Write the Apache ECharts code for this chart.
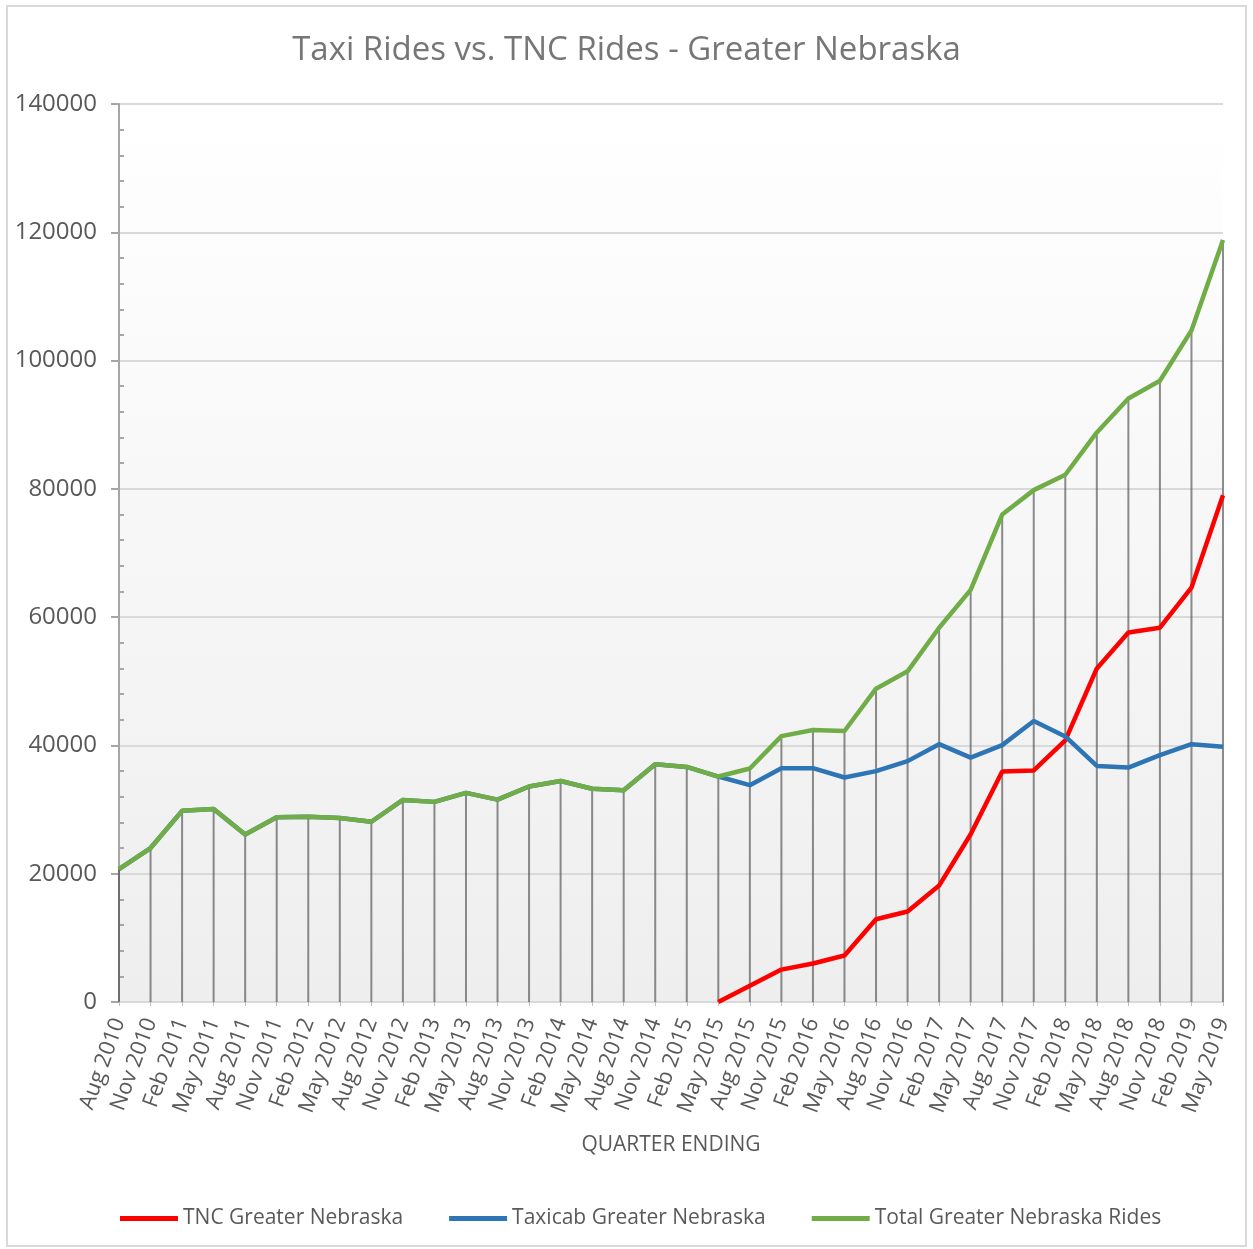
<!DOCTYPE html>
<html>
<head>
<meta charset="utf-8">
<title>Taxi Rides vs. TNC Rides - Greater Nebraska</title>
<script src="https://cdn.jsdelivr.net/npm/echarts@6/dist/echarts.min.js"></script>
<style>
    html, body { margin: 0; padding: 0; background: #fff; }
    #frame { position: absolute; left: 6px; top: 5px; width: 1241px; height: 1242px; border: 2px solid #d9d9d9; box-sizing: border-box; }
    #main { position: absolute; left: 0; top: 0; width: 1253px; height: 1249px; }
</style>
</head>
<body>
<div id="frame"></div>
<div id="main"></div>
<script>
// quarter ending labels
var quarters = [
    'Aug 2010', 'Nov 2010',
    'Feb 2011', 'May 2011', 'Aug 2011', 'Nov 2011',
    'Feb 2012', 'May 2012', 'Aug 2012', 'Nov 2012',
    'Feb 2013', 'May 2013', 'Aug 2013', 'Nov 2013',
    'Feb 2014', 'May 2014', 'Aug 2014', 'Nov 2014',
    'Feb 2015', 'May 2015', 'Aug 2015', 'Nov 2015',
    'Feb 2016', 'May 2016', 'Aug 2016', 'Nov 2016',
    'Feb 2017', 'May 2017', 'Aug 2017', 'Nov 2017',
    'Feb 2018', 'May 2018', 'Aug 2018', 'Nov 2018',
    'Feb 2019', 'May 2019'
];

var tncRides = [
    null, null, null, null, null, null, null, null, null, null,
    null, null, null, null, null, null, null, null, null,
    0, 2550, 5050, 6000, 7250, 12900, 14100, 18150, 26150, 35950,
    36100, 40800, 52000, 57600, 58350, 64600, 79000
];

var taxiRides = [
    20700, 24000, 29800, 30100, 26100, 28800, 28900, 28700, 28100, 31500,
    31200, 32600, 31550, 33600, 34450, 33250, 33000, 37050, 36650,
    35150, 33800, 36450, 36450, 35000, 36000, 37550, 40200, 38100, 40050,
    43800, 41400, 36800, 36550, 38500, 40200, 39800
];

var totalRides = [
    20700, 24000, 29800, 30100, 26100, 28800, 28900, 28700, 28100, 31500,
    31200, 32600, 31550, 33600, 34450, 33250, 33000, 37050, 36650,
    35150, 36400, 41450, 42400, 42250, 48850, 51550, 58350, 64250, 76000,
    79800, 82200, 88800, 94100, 96850, 104700, 118800
];

var seriesNames = ['TNC Greater Nebraska', 'Taxicab Greater Nebraska', 'Total Greater Nebraska Rides'];

var fontFamily = '"Open Sans", "Noto Sans", sans-serif';
var chart = echarts.init(document.getElementById('main'));

function lineSeries(name, data, color) {
    return {
        name: name,
        type: 'line',
        data: data,
        showSymbol: false,
        symbol: 'none',
        connectNulls: false,
        z: 3,
        lineStyle: { color: color, width: 4.5 },
        itemStyle: { color: color }
    };
}

var options = {
    backgroundColor: 'transparent',
    animation: false,
    title: {
        text: 'Taxi Rides vs. TNC Rides - Greater Nebraska',
        left: 'center',
        top: 29,
        textStyle: { fontFamily: fontFamily, fontSize: 33, fontWeight: 'normal', color: '#767676' }
    },
    legend: {
        data: seriesNames,
        left: 115,
        top: 1203,
        itemWidth: 58,
        itemHeight: 5,
        itemGap: 46,
        icon: 'rect',
        textStyle: { fontFamily: fontFamily, fontSize: 21, color: '#595959' }
    },
    grid: {
        left: 119,
        right: 30,
        top: 104,
        bottom: 247,
        show: true,
        borderWidth: 0,
        backgroundColor: {
            type: 'linear', x: 0, y: 0, x2: 0, y2: 1,
            colorStops: [{ offset: 0, color: '#ffffff' }, { offset: 1, color: '#eeeeee' }]
        }
    },
    xAxis: {
        type: 'category',
        data: quarters,
        boundaryGap: false,
        name: 'QUARTER ENDING',
        nameLocation: 'middle',
        nameGap: 133,
        nameTextStyle: { fontFamily: fontFamily, fontSize: 21, color: '#595959' },
        axisLine: { lineStyle: { color: '#d9d9d9', width: 2 } },
        axisTick: { show: true, length: 4, alignWithLabel: true, lineStyle: { color: '#bfbfbf' } },
        axisLabel: {
            interval: 0,
            rotate: 70,
            margin: 17,
            fontFamily: fontFamily,
            fontSize: 22,
            color: '#595959'
        },
        splitLine: { show: false }
    },
    yAxis: [{
        type: 'value',
        min: 0,
        max: 140000,
        interval: 20000,
        axisLine: { show: true, lineStyle: { color: '#a6a6a6', width: 2 } },
        axisTick: { show: true, inside: false, length: 8, lineStyle: { color: '#a6a6a6', width: 2 } },
        axisLabel: {
            margin: 22,
            fontFamily: fontFamily,
            fontSize: 24,
            color: '#595959',
            formatter: function (v) { return String(v); }
        },
        splitLine: { lineStyle: { color: '#d9d9d9', width: 2 } }
    }, {
        // minor ticks pointing into the plot
        type: 'value',
        min: 0,
        max: 140000,
        interval: 20000,
        position: 'left',
        axisLine: { show: false },
        axisTick: { show: false, inside: true },
        minorTick: { show: true, splitNumber: 5, length: 5, lineStyle: { color: '#a6a6a6', width: 2 } },
        axisLabel: { show: false },
        splitLine: { show: false }
    }],
    series: [{
        name: 'drop',
        type: 'bar',
        data: totalRides,
        barWidth: 2,
        silent: true,
        z: 1,
        itemStyle: { color: 'rgba(80,80,80,0.65)' }
    },
        lineSeries(seriesNames[0], tncRides, '#ff0000'),
        lineSeries(seriesNames[1], taxiRides, '#2e75b6'),
        lineSeries(seriesNames[2], totalRides, '#70ad47')
    ]
};
chart.setOption(options);
</script>
</body>
</html>
